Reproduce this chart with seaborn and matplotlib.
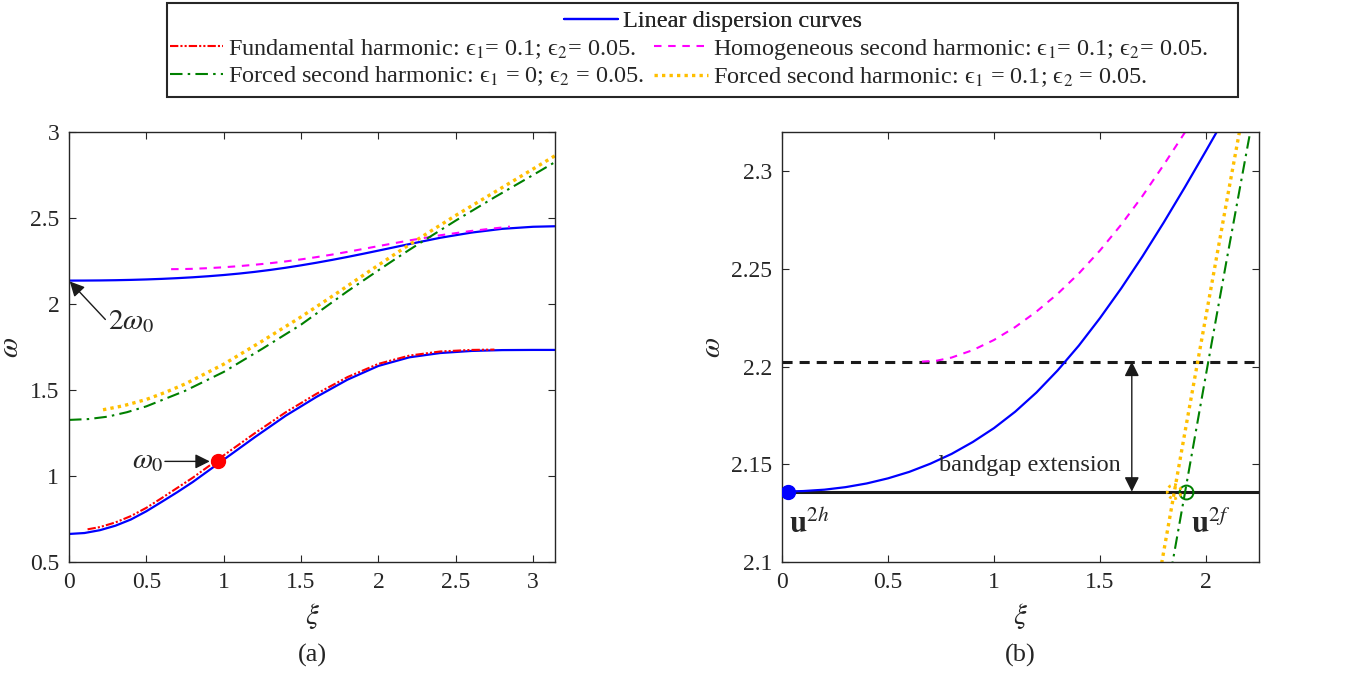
import matplotlib
matplotlib.use("Agg")
import matplotlib.pyplot as plt
import seaborn as sns
import pandas as pd
from matplotlib.lines import Line2D
from matplotlib.patches import Rectangle

# ---------------- data ----------------
# lower linear dispersion branch
xi_low = [0, 0.1, 0.2, 0.3, 0.4, 0.5, 0.6, 0.7, 0.8, 1.0, 1.2, 1.4, 1.6, 1.8, 2.0, 2.2, 2.4, 2.6,
          2.8, 3.0, 3.1416]
w_low = [0.663, 0.6685, 0.685, 0.711, 0.747, 0.795, 0.85, 0.906, 0.965, 1.095, 1.225, 1.35, 1.46,
         1.56, 1.64, 1.69, 1.715, 1.727, 1.732, 1.733, 1.733]

# upper linear dispersion branch
xi_up = [0, 0.1, 0.2, 0.3, 0.4, 0.5, 0.6, 0.7, 0.8, 0.9, 1.0, 1.1, 1.2, 1.3, 1.4, 1.5, 1.6, 1.7,
         1.8, 1.9, 2.0, 2.1, 2.2, 2.4, 2.6, 2.8, 3.0, 3.1416]
w_up = [2.1360, 2.1363, 2.1370, 2.1383, 2.1402, 2.1428, 2.1461, 2.1503, 2.1553, 2.1614, 2.1685,
        2.1769, 2.1867, 2.1980, 2.2107, 2.2248, 2.2400, 2.2563, 2.2736, 2.2917, 2.3104, 2.3294,
        2.3484, 2.385, 2.415, 2.437, 2.449, 2.452]

# fundamental harmonic (eps1=0.1, eps2=0.05)
xi_fund = [0.12, 0.2, 0.3, 0.4, 0.5, 0.6, 0.8, 1.0, 1.2, 1.4, 1.6, 1.8, 2.0, 2.2, 2.4, 2.6, 2.75]
w_fund = [0.69, 0.703, 0.73, 0.767, 0.815, 0.872, 0.99, 1.12, 1.248, 1.37, 1.478, 1.575, 1.652,
          1.70, 1.724, 1.733, 1.735]

# homogeneous second harmonic
xi_hom = [0.66, 0.73, 0.8, 0.9, 1.0, 1.1, 1.2, 1.3, 1.4, 1.5, 1.6, 1.7, 1.8, 1.9, 2.0, 2.2, 2.4, 2.6, 2.85]
w_hom = [2.2025, 2.2030, 2.2046, 2.2084, 2.2136, 2.2202, 2.2281, 2.2372, 2.2476, 2.2594, 2.2726,
         2.2872, 2.3031, 2.3197, 2.3366, 2.3696, 2.3996, 2.4246, 2.4500]

# forced second harmonic, eps1 = 0
xi_f0 = [0, 0.125, 0.25, 0.375, 0.5, 0.75, 1.0, 1.25, 1.5, 1.8, 1.9, 2.0, 2.1, 2.2, 2.3, 2.5, 2.75,
         3.0, 3.1416]
w_f0 = [1.326, 1.331, 1.345, 1.371, 1.405, 1.495, 1.605, 1.74, 1.88, 2.074, 2.135, 2.196, 2.256,
        2.315, 2.372, 2.485, 2.62, 2.75, 2.825]

# forced second harmonic, eps1 = 0.1
xi_f1 = [0.22, 0.35, 0.5, 0.625, 0.75, 1.0, 1.25, 1.5, 1.75, 1.8, 1.9, 2.0, 2.1, 2.2, 2.3, 2.5, 2.75,
         3.0, 3.1416]
w_f1 = [1.385, 1.408, 1.445, 1.487, 1.535, 1.65, 1.785, 1.925, 2.074, 2.105, 2.166, 2.226, 2.286,
        2.345, 2.402, 2.515, 2.65, 2.785, 2.862]

omega0_pt = (0.96, 1.085)
two_omega0 = 2.136
bandgap_top = 2.2025
u2h_pt = (0.03, 2.136)
u2f_green = (1.906, 2.136)
u2f_yellow = (1.85, 2.136)

xticks_a = [0, 0.5, 1, 1.5, 2, 2.5, 3]
xticklabels_a = ["0", "0.5", "1", "1.5", "2", "2.5", "3"]
yticks_a = [0.5, 1, 1.5, 2, 2.5, 3]
yticklabels_a = ["0.5", "1", "1.5", "2", "2.5", "3"]
xticks_b = [0, 0.5, 1, 1.5, 2]
xticklabels_b = ["0", "0.5", "1", "1.5", "2"]
yticks_b = [2.1, 2.15, 2.2, 2.25, 2.3]
yticklabels_b = ["2.1", "2.15", "2.2", "2.25", "2.3"]

EPS = "\u03f5"
labels = {
    "lin": "Linear dispersion curves",
    "fund": f"Fundamental harmonic: {EPS}$_1$= 0.1; {EPS}$_2$= 0.05.",
    "hom": f"Homogeneous second harmonic: {EPS}$_1$= 0.1; {EPS}$_2$= 0.05.",
    "f0": f"Forced second harmonic: {EPS}$_1$ = 0; {EPS}$_2$ = 0.05.",
    "f1": f"Forced second harmonic: {EPS}$_1$ = 0.1; {EPS}$_2$ = 0.05.",
}

# ---------------- styling ----------------
sns.set_theme(style="ticks")
plt.rcParams["font.family"] = ["Liberation Serif", "DejaVu Serif"]
plt.rcParams["mathtext.fontset"] = "stix"
plt.rcParams["axes.edgecolor"] = "#262626"
plt.rcParams["xtick.color"] = "#262626"
plt.rcParams["ytick.color"] = "#262626"

C_BLUE = "#0000FF"
C_RED = "#FF0000"
C_MAG = "#FF00FF"
C_GREEN = "#008000"
C_YEL = "#FFBF00"

styles = {
    "lin": dict(color=C_BLUE, linestyle="-", linewidth=1.6),
    "fund": dict(color=C_RED, linestyle=(0, (4, 1, 1, 1, 1, 1)), linewidth=1.5),
    "hom": dict(color=C_MAG, linestyle=(0, (3.6, 3.2)), linewidth=1.5),
    "f0": dict(color=C_GREEN, linestyle=(0, (6, 2.5, 1.2, 2.5)), linewidth=1.5),
    "f1": dict(color=C_YEL, linestyle=(0, (1, 1.25)), linewidth=2.4),
}

fig = plt.figure(figsize=(13.52, 6.73), dpi=100)
W, H = 1352, 673
axA = fig.add_axes([69 / W, 1 - 562 / H, (555 - 69) / W, (562 - 132) / H])
axB = fig.add_axes([782 / W, 1 - 562 / H, (1259 - 782) / W, (562 - 132) / H])


def draw(ax, x, y, key):
    df = pd.DataFrame({"xi": x, "w": y})
    sns.lineplot(data=df, x="xi", y="w", ax=ax, sort=False, legend=False, **styles[key])


for ax in (axA, axB):
    draw(ax, xi_low, w_low, "lin")
    draw(ax, xi_up, w_up, "lin")
    draw(ax, xi_fund, w_fund, "fund")
    draw(ax, xi_hom, w_hom, "hom")
    draw(ax, xi_f0, w_f0, "f0")
    draw(ax, xi_f1, w_f1, "f1")

TICK_FS = 17
for ax in (axA, axB):
    ax.tick_params(direction="in", top=True, right=True, length=5, width=0.8,
                   labelsize=TICK_FS, pad=7)
    for s in ax.spines.values():
        s.set_linewidth(1.0)
    ax.set_xlabel(r"$\xi$", fontsize=21, labelpad=6)
    ax.set_ylabel(r"$\omega$", fontsize=21, labelpad=4)

axA.set_xlim(0, 3.1416)
axA.set_ylim(0.5, 3)
axA.set_xticks(xticks_a)
axA.set_xticklabels(xticklabels_a)
axA.set_yticks(yticks_a)
axA.set_yticklabels(yticklabels_a)

axB.set_xlim(0, 2.25)
axB.set_ylim(2.1, 2.32)
axB.set_xticks(xticks_b)
axB.set_xticklabels(xticklabels_b)
axB.set_yticks(yticks_b)
axB.set_yticklabels(yticklabels_b)

# ---------- panel (a) annotations ----------
axA.plot([omega0_pt[0]], [omega0_pt[1]], "o", color=C_RED, markersize=10, zorder=5)
axA.annotate("", xy=(omega0_pt[0] - 0.05, omega0_pt[1]), xytext=(0.62, omega0_pt[1]),
             arrowprops=dict(arrowstyle="-|>", color="k", lw=1.0, mutation_scale=22,
                             shrinkA=0, shrinkB=0))
axA.text(0.61, omega0_pt[1], r"$\omega_0$", fontsize=21, ha="right", va="center")
axA.annotate("", xy=(0.005, two_omega0 - 0.005), xytext=(0.235, 1.91),
             arrowprops=dict(arrowstyle="-|>", color="k", lw=1.0, mutation_scale=22,
                             shrinkA=0, shrinkB=0))
axA.text(0.25, 1.9, r"$2\omega_0$", fontsize=21, ha="left", va="center")

# ---------- panel (b) annotations ----------
axB.axhline(two_omega0, color="k", lw=2.2, zorder=1)
axB.axhline(bandgap_top, color="k", lw=2.2, linestyle=(0, (3.3, 2.3)), zorder=1)
axB.plot([u2h_pt[0]], [u2h_pt[1]], "o", color=C_BLUE, markersize=10, zorder=5)
axB.plot([u2f_green[0]], [u2f_green[1]], "o", mfc="none", mec=C_GREEN, mew=1.4,
         markersize=10, zorder=5)
axB.scatter([u2f_yellow[0]], [u2f_yellow[1]], s=100, facecolors="none", edgecolors=C_YEL,
            linewidths=2.0, linestyles=(0, (1, 1.3)), zorder=5)
axB.annotate("", xy=(1.65, bandgap_top), xytext=(1.65, two_omega0),
             arrowprops=dict(arrowstyle="<|-|>", color="k", lw=1.0, mutation_scale=22,
                             shrinkA=0, shrinkB=0))
axB.text(1.6, 2.1495, "bandgap extension", fontsize=17.5, ha="right", va="center")
axB.text(0.035, 2.1148, r"$\mathbf{u}^{2h}$", fontsize=22, ha="left", va="baseline")
axB.text(1.93, 2.1148, r"$\mathbf{u}^{2f}$", fontsize=22, ha="left", va="baseline")

# panel captions
fig.text(312 / W, 1 - 655 / H, "(a)", fontsize=19, ha="center", va="center")
fig.text(1020 / W, 1 - 655 / H, "(b)", fontsize=19, ha="center", va="center")

# ---------- legend ----------
def proxy(key):
    return Line2D([0], [0], **styles[key])

LEG_FS = 17.5
leg_kw = dict(frameon=False, fontsize=LEG_FS, handlelength=2.2, handletextpad=0.2, borderpad=0.0,
              borderaxespad=0.0)
leg1 = fig.legend([proxy("lin")], [labels["lin"]], loc="upper center",
                  bbox_to_anchor=(713 / W, 1 - 10 / H), **leg_kw)
leg2 = fig.legend([proxy("fund"), proxy("f0"), proxy("hom"), proxy("f1")],
                  [labels["fund"], labels["f0"], labels["hom"], labels["f1"]],
                  loc="upper left", bbox_to_anchor=(170 / W, 1 - 37 / H), ncol=2,
                  columnspacing=0.4, labelspacing=0.15, **leg_kw)
fig.add_artist(leg1)
fig.add_artist(Rectangle((167 / W, 1 - 97 / H), (1238 - 167) / W, 94 / H,
                         transform=fig.transFigure, fill=False, edgecolor="#262626", lw=1.5))

fig.savefig("out.png", dpi=100)
